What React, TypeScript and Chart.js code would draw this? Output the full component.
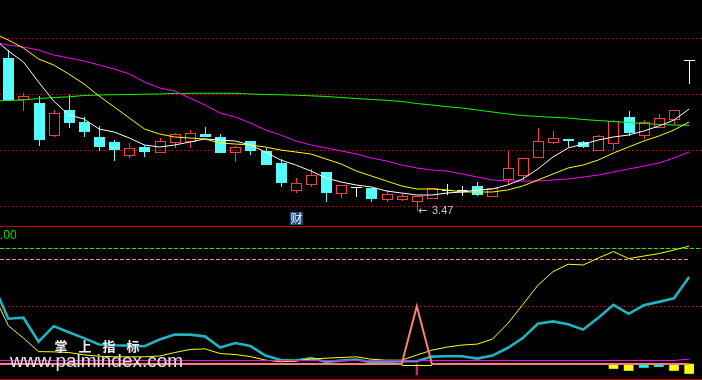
import React, { useEffect, useRef } from 'react';
import { Chart, registerables } from 'chart.js';

Chart.register(...registerables);

const W = 702;
const H = 380;

// ---- Candles (bar index 0..45) ----
const opens = [4.99, 4.58, 4.54, 4.22, 4.47, 4.35, 4.20, 4.15, 4.02, 4.10, 4.05, 4.15, 4.16, 4.23, 4.20, 4.05, 4.16, 4.06, 3.94, 3.67, 3.73, 3.85, 3.64, 3.70, 3.69, 3.58, 3.58, 3.56, 3.59, 3.67, 3.67, 3.71, 3.61, 3.78, 3.82, 4.00, 4.15, 4.18, 4.15, 4.07, 4.14, 4.40, 4.22, 4.30, 4.38, 4.97];
const highs = [5.07, 4.64, 4.61, 4.47, 4.62, 4.40, 4.31, 4.17, 4.14, 4.12, 4.19, 4.24, 4.27, 4.30, 4.23, 4.11, 4.16, 4.09, 3.98, 3.79, 3.88, 3.85, 3.72, 3.70, 3.69, 3.67, 3.63, 3.61, 3.69, 3.73, 3.71, 3.75, 3.69, 4.06, 3.99, 4.29, 4.26, 4.18, 4.16, 4.22, 4.37, 4.46, 4.37, 4.43, 4.47, 4.97];
const lows = [4.57, 4.47, 4.12, 4.21, 4.30, 4.21, 4.07, 3.97, 4.00, 4.01, 4.05, 4.10, 4.10, 4.21, 4.05, 3.96, 4.03, 3.93, 3.71, 3.65, 3.71, 3.56, 3.60, 3.61, 3.56, 3.56, 3.57, 3.47, 3.59, 3.63, 3.62, 3.62, 3.61, 3.74, 3.77, 4.00, 4.14, 4.11, 4.10, 4.07, 4.08, 4.22, 4.19, 4.30, 4.34, 4.74];
const closes = [4.58, 4.61, 4.18, 4.44, 4.35, 4.26, 4.11, 4.08, 4.09, 4.06, 4.16, 4.23, 4.24, 4.21, 4.05, 4.10, 4.07, 3.93, 3.75, 3.74, 3.82, 3.65, 3.72, 3.70, 3.59, 3.63, 3.61, 3.61, 3.69, 3.67, 3.67, 3.63, 3.69, 3.89, 3.99, 4.16, 4.19, 4.17, 4.11, 4.21, 4.36, 4.25, 4.35, 4.39, 4.47, 4.97];

// ---- Moving averages (first value belongs to the bar before index 0) ----
const LINE_START = -1;
const ma5 = [5.19, 5.06, 4.95, 4.75, 4.56, 4.42, 4.38, 4.28, 4.25, 4.19, 4.12, 4.10, 4.12, 4.15, 4.18, 4.17, 4.16, 4.12, 4.05, 3.97, 3.92, 3.86, 3.79, 3.75, 3.72, 3.70, 3.66, 3.64, 3.62, 3.62, 3.64, 3.65, 3.67, 3.68, 3.72, 3.78, 3.88, 4.00, 4.09, 4.13, 4.17, 4.20, 4.22, 4.26, 4.31, 4.37, 4.48];
const ma10 = [5.24, 5.17, 5.09, 4.98, 4.92, 4.83, 4.73, 4.61, 4.50, 4.39, 4.28, 4.23, 4.20, 4.19, 4.18, 4.14, 4.13, 4.12, 4.10, 4.07, 4.05, 4.03, 3.98, 3.93, 3.86, 3.81, 3.76, 3.71, 3.68, 3.68, 3.67, 3.65, 3.65, 3.65, 3.67, 3.71, 3.77, 3.83, 3.89, 3.92, 3.97, 4.04, 4.10, 4.16, 4.21, 4.27, 4.35];
const ma30 = [5.15, 5.12, 5.10, 5.07, 5.02, 4.99, 4.96, 4.92, 4.88, 4.83, 4.75, 4.69, 4.66, 4.59, 4.52, 4.44, 4.40, 4.34, 4.27, 4.22, 4.16, 4.12, 4.09, 4.06, 4.03, 3.99, 3.96, 3.92, 3.89, 3.87, 3.86, 3.83, 3.80, 3.77, 3.76, 3.76, 3.76, 3.77, 3.78, 3.80, 3.82, 3.85, 3.88, 3.91, 3.94, 3.99, 4.05];
const ma60 = [4.56, 4.565, 4.57, 4.585, 4.595, 4.602, 4.615, 4.62, 4.623, 4.625, 4.628, 4.63, 4.635, 4.637, 4.637, 4.637, 4.637, 4.63, 4.625, 4.622, 4.618, 4.612, 4.605, 4.595, 4.585, 4.575, 4.567, 4.555, 4.535, 4.52, 4.503, 4.49, 4.47, 4.45, 4.43, 4.415, 4.405, 4.397, 4.39, 4.375, 4.365, 4.355, 4.345, 4.335, 4.325, 4.32, 4.317];

// ---- Lower indicator panel (same index offset as the moving averages) ----
const indCyan = [69.2, 39.1, 40.0, 19.3, 32.7, 27.5, 22.4, 16.8, 16.2, 15.9, 15.3, 21.1, 25.4, 25.4, 23.9, 14.2, 18.1, 15.5, 7.3, 3.4, 3.0, 5.2, 1.7, 3.0, 3.9, 1.5, 1.7, 2.4, 2.4, 6.4, 6.7, 6.7, 4.7, 7.3, 13.8, 22.4, 34.8, 36.8, 34.4, 29.7, 40.0, 51.2, 43.4, 50.7, 53.7, 56.8, 75.2];
const indYellow = [60.6, 33.1, 22.4, 10.7, 10.5, 9.9, 7.9, 6.7, 6.2, 6.2, 6.2, 6.9, 9.9, 12.5, 13.1, 9.0, 8.2, 6.4, 3.4, 1.9, 2.6, 4.3, 5.0, 5.6, 6.2, 4.1, 3.3, 3.3, 7.7, 12.0, 14.6, 16.4, 17.2, 21.5, 34.8, 51.2, 68.0, 79.8, 86.2, 85.6, 91.6, 97.2, 91.1, 93.3, 95.4, 98.5, 101.9];
const indMagenta = [3.0, 3.0, 3.0, 3.0, 3.0, 3.0, 3.0, 3.0, 3.0, 3.0, 3.0, 3.0, 3.0, 3.0, 3.0, 3.0, 3.0, 3.0, 3.0, 3.0, 3.0, 3.0, 3.0, 3.0, 3.0, 3.0, 3.0, 3.0, 3.0, 3.0, 3.0, 3.0, 3.0, 3.0, 3.0, 3.0, 3.0, 3.0, 3.0, 3.0, 3.0, 3.0, 3.0, 3.0, 3.0, 3.0, 4.3];
const indSignal = [0, 0, 0, 0, 0, 0, 0, 0, 0, 0, 0, 0, 0, 0, 0, 0, 0, 0, 0, 0, 0, 0, 0, 0, 0, 0, 0, 0, 50, 0, 0, 0, 0, 0, 0, 0, 0, 0, 0, 0, 0, 0, 0, 0, 0, 0, 0];
const floorIdx = [26, 27, 28];
const floorVals = [-1.3, -1.3, -1.3];
const stickIdx = [40, 41, 42, 43, 44, 45];
const stickVals = [-3.9, -5.6, -3.0, -2.2, -5.6, -8.2];
const stickColors = ['#ffff00', '#ffff00', '#00ffff', '#00ffff', '#ffff00', '#ffff00'];
const tickIdx = [27];
const tickVals = [-9.5];

// ---- Reference levels and labels ----
const topGrid = [5.19, 4.63, 4.07, 3.51];
const LEVEL_HI = 100;
const LEVEL_MID = 90;
const LEVEL_LO = 50;
const REPORT_IDX = 19;
const REPORT_TEXT = '财';
const AXIS_LABEL = '.00';
const WM_CHARS = ['掌', '上', '指', '标'];
const WM_URL = 'www.palmindex.com';

const UP = '#ff3c3c';
const DOWN = '#54fcfc';
const FLAT = '#ffffff';
const GRID_RED = '#e00000';

const toPts = (vals: number[]) => vals.map((v, k) => ({ x: k + LINE_START, y: v }));

const lineDs = (vals: number[] | { x: number; y: number }[], color: string, yAxisID: string, width: number, order: number) => ({
  type: 'line' as const,
  data: (typeof vals[0] === 'number' ? toPts(vals as number[]) : vals) as any,
  borderColor: color,
  backgroundColor: color,
  borderWidth: width,
  pointRadius: 0,
  tension: 0,
  fill: false,
  xAxisID: 'x',
  yAxisID,
  order,
});

function hline(ctx: CanvasRenderingContext2D, y: number, x1: number, x2: number, color: string, dash: number[], lw = 1) {
  ctx.save();
  ctx.strokeStyle = color;
  ctx.lineWidth = lw;
  ctx.setLineDash(dash);
  ctx.beginPath();
  ctx.moveTo(x1, y);
  ctx.lineTo(x2, y);
  ctx.stroke();
  ctx.restore();
}

const gridPlugin = {
  id: 'tdxGrid',
  beforeDraw(chart: any) {
    const { ctx, width, height } = chart;
    ctx.save();
    ctx.fillStyle = '#000';
    ctx.fillRect(0, 0, width, height);
    ctx.restore();
  },
  beforeDatasetsDraw(chart: any) {
    const ctx = chart.ctx as CanvasRenderingContext2D;
    const xs = chart.scales.x;
    const yT = chart.scales.yTop;
    const yB = chart.scales.yBot;
    const w = chart.width;
    const py = (s: any, v: number) => Math.floor(s.getPixelForValue(v) + 0.01) + 0.5;
    topGrid.forEach((v) => hline(ctx, py(yT, v), 0, w, GRID_RED, [1, 3]));
    hline(ctx, py(yB, LEVEL_HI), 0, w, GRID_RED, [1, 3]);
    hline(ctx, py(yB, LEVEL_HI), 0, w, '#00ff00', [4, 2]);
    hline(ctx, py(yB, LEVEL_MID), 0, xs.getPixelForValue(45), '#ff8c8c', [4, 2]);
    hline(ctx, py(yB, LEVEL_LO), 0, w, GRID_RED, [1, 3]);
    ctx.save();
    ctx.fillStyle = '#c80000';
    ctx.fillRect(0, 226, w, 1);
    ctx.fillRect(0, 379, w, 1);
    ctx.restore();
  },
};

const candlePlugin = {
  id: 'candles',
  beforeDatasetsDraw(chart: any) {
    const ctx = chart.ctx as CanvasRenderingContext2D;
    const xs = chart.scales.x;
    const ys = chart.scales.yTop;
    ctx.save();
    for (let i = 0; i < opens.length; i++) {
      const cx = Math.round(xs.getPixelForValue(i));
      const yo = Math.round(ys.getPixelForValue(opens[i]));
      const yc = Math.round(ys.getPixelForValue(closes[i]));
      const yh = Math.round(ys.getPixelForValue(highs[i]));
      const yl = Math.round(ys.getPixelForValue(lows[i]));
      const up = closes[i] > opens[i];
      const down = closes[i] < opens[i];
      const color = up ? UP : down ? DOWN : FLAT;
      const top = Math.min(yo, yc);
      const bot = Math.max(yo, yc);
      ctx.fillStyle = color;
      if (top > yh) ctx.fillRect(cx, yh, 1, top - yh);
      if (yl > bot) ctx.fillRect(cx, bot, 1, yl - bot + 1);
      const left = cx - 5;
      if (up) {
        ctx.strokeStyle = color;
        ctx.lineWidth = 1;
        ctx.strokeRect(left + 0.5, top + 0.5, 10, bot - top);
      } else if (down) {
        ctx.fillRect(left, top, 11, bot - top + 1);
      } else {
        ctx.fillRect(left, top, 11, 1);
      }
    }
    ctx.restore();
  },
};

const textPlugin = {
  id: 'tdxText',
  afterDatasetsDraw(chart: any) {
    const ctx = chart.ctx as CanvasRenderingContext2D;
    const xs = chart.scales.x;
    const ys = chart.scales.yTop;
    ctx.save();

    // lowest-low marker
    let lowIdx = 0;
    lows.forEach((v, i) => { if (v < lows[lowIdx]) lowIdx = i; });
    const lx = Math.round(xs.getPixelForValue(lowIdx)) + 1;
    const ly = Math.round(ys.getPixelForValue(lows[lowIdx])) + 1;
    ctx.fillStyle = '#c8c8c8';
    ctx.textBaseline = 'middle';
    ctx.textAlign = 'left';
    ctx.font = '11px "DejaVu Sans"';
    ctx.fillText('←', lx, ly);
    ctx.font = '11px "Liberation Sans"';
    ctx.fillText(lows[lowIdx].toFixed(2), lx + 14, ly);

    // report marker
    const rx = Math.round(xs.getPixelForValue(REPORT_IDX));
    ctx.fillStyle = '#1a4a7c';
    ctx.fillRect(rx - 6, 212, 13, 13);
    ctx.fillStyle = '#ffffff';
    ctx.textAlign = 'center';
    ctx.font = '12px "Noto Sans CJK SC"';
    ctx.fillText(REPORT_TEXT, rx + 0.5, 218.5);

    // lower panel axis label
    ctx.fillStyle = '#00e000';
    ctx.textAlign = 'left';
    ctx.textBaseline = 'alphabetic';
    ctx.font = '12px "Liberation Sans"';
    ctx.fillText(AXIS_LABEL, 0, 239);

    // watermark
    ctx.fillStyle = '#f0f0f0';
    ctx.textAlign = 'center';
    ctx.textBaseline = 'middle';
    ctx.font = 'bold 13px "Noto Sans CJK SC"';
    const wmX = [61, 85, 109, 133];
    WM_CHARS.forEach((c, k) => ctx.fillText(c, wmX[k], 346.5));
    ctx.fillStyle = '#e6e6e6';
    ctx.textAlign = 'left';
    ctx.textBaseline = 'alphabetic';
    ctx.font = '19px "Liberation Sans"';
    ctx.fillText(WM_URL, 10, 366.5);
    ctx.restore();
  },
};

export default function App() {
  const ref = useRef<HTMLCanvasElement>(null);
  useEffect(() => {
    const canvas = ref.current;
    if (!canvas) return;
    const chart = new Chart(canvas, {
      type: 'bar',
      data: {
        datasets: [
          lineDs(ma60, '#00ff00', 'yTop', 1, 4),
          lineDs(ma30, '#ff00ff', 'yTop', 1, 3),
          lineDs(ma10, '#ffff00', 'yTop', 1, 2),
          lineDs(ma5, '#ffffff', 'yTop', 1, 1),
          {
            type: 'bar',
            data: stickIdx.map((x, k) => ({ x, y: stickVals[k] })),
            backgroundColor: stickColors,
            borderWidth: 0,
            barThickness: 9,
            grouped: false,
            xAxisID: 'x',
            yAxisID: 'yBot',
            order: 20,
          } as any,
          {
            type: 'bar',
            data: tickIdx.map((x, k) => ({ x, y: tickVals[k] })),
            backgroundColor: '#d8287a',
            borderWidth: 0,
            barThickness: 1.5,
            grouped: false,
            xAxisID: 'x',
            yAxisID: 'yBot',
            order: 20,
          } as any,
          lineDs(indCyan, '#20b4c0', 'yBot', 2.6, 9),
          lineDs(indYellow, '#ffff00', 'yBot', 1, 8),
          lineDs(indMagenta, '#ff00ff', 'yBot', 1, 7),
          lineDs(floorIdx.map((x, k) => ({ x, y: floorVals[k] })), '#ffff00', 'yBot', 1, 6),
          lineDs(indSignal, '#fa8072', 'yBot', 2, 5),
        ],
      },
      options: {
        responsive: false,
        animation: false,
        devicePixelRatio: 1,
        events: [],
        layout: { padding: 0 },
        plugins: { legend: { display: false }, tooltip: { enabled: false } },
        scales: {
          x: { type: 'linear', min: -0.549, max: 45.85, display: false, offset: false },
          y: { display: false },
          yTop: { type: 'linear', min: 1.77, max: 5.57, display: false },
          yBot: { type: 'linear', min: -13.83, max: 314.6, display: false },
        },
      } as any,
      plugins: [gridPlugin, candlePlugin, textPlugin],
    });
    return () => chart.destroy();
  }, []);
  return (
    <div style={{ position: 'fixed', left: 0, top: 0, width: W, height: H, background: '#000' }}>
      <canvas ref={ref} width={W} height={H} style={{ display: 'block', width: W, height: H }} />
    </div>
  );
}
